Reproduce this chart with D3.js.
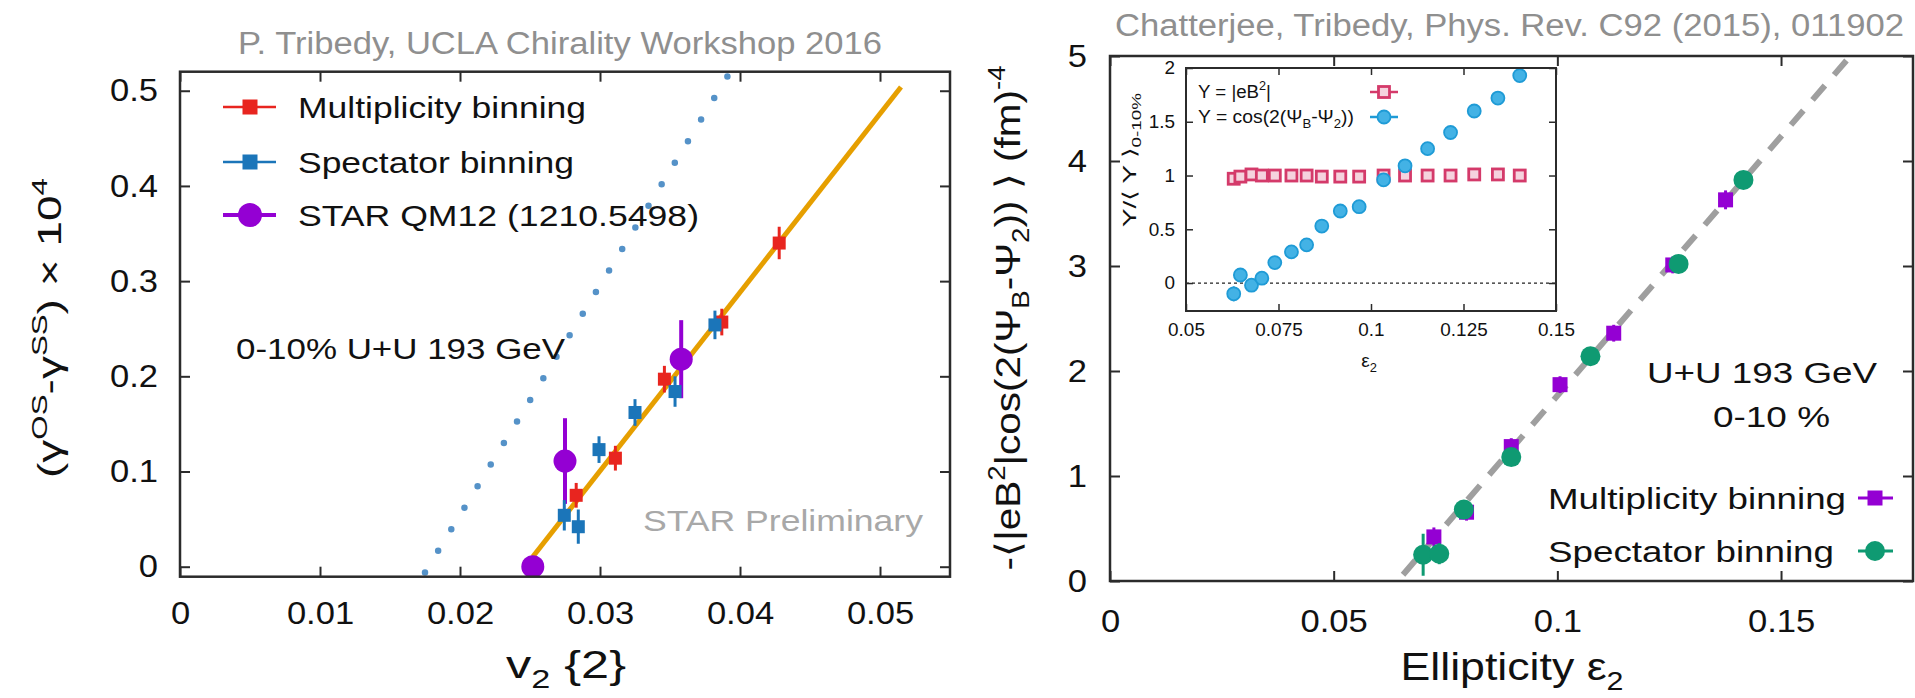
<!DOCTYPE html>
<html>
<head>
<meta charset="utf-8">
<script src="https://cdn.jsdelivr.net/npm/d3@7"></script>
<style>
  html, body { margin: 0; padding: 0; background: #fff; }
  svg { display: block; }
  text { font-family: "Liberation Sans", Arial, Helvetica, sans-serif; fill: #111; }
</style>
</head>
<body>
<svg id="chart" width="1915" height="698"></svg>
<script>
// ---------- Left panel: gamma correlator vs v2{2}, U+U 193 GeV, 0-10% ----------
const multV2        = [0.0283, 0.0311, 0.0346, 0.0387, 0.0428];
const multGamma     = [0.075, 0.114, 0.197, 0.257, 0.340];
const multGammaErr  = [0.013, 0.013, 0.014, 0.014, 0.017];

const specV2        = [0.02745, 0.02845, 0.02993, 0.0325, 0.03536, 0.03821];
const specGamma     = [0.054, 0.042, 0.123, 0.162, 0.184, 0.254];
const specGammaErr  = [0.016, 0.018, 0.014, 0.014, 0.016, 0.015];

const starV2        = [0.0252, 0.0275, 0.0358];
const starGamma     = [0.0, 0.111, 0.218];
const starGammaErr  = [0.0, 0.045, 0.041];

const fitV2         = [0.0252, 0.0515];
const fitGamma      = [0.0105, 0.504];
const scaledV2      = [0.0175, 0.0391];
const scaledGamma   = [-0.006, 0.515];

const leftXTicks    = [0, 0.01, 0.02, 0.03, 0.04, 0.05];
const leftYTicks    = [0, 0.1, 0.2, 0.3, 0.4, 0.5];

// ---------- Right panel: magnetic field projection vs ellipticity ----------
const ellMult       = [0.0724, 0.0797, 0.0897, 0.1006, 0.1126, 0.1258, 0.1376];
const fieldMult     = [0.42, 0.655, 1.28, 1.87, 2.36, 3.01, 3.63];
const fieldMultErr  = [0.09, 0.08, 0.08, 0.08, 0.08, 0.08, 0.09];

const ellSpec       = [0.0700, 0.0736, 0.0791, 0.0897, 0.1074, 0.1271, 0.1416];
const fieldSpec     = [0.25, 0.26, 0.68, 1.18, 2.14, 3.02, 3.82];
const fieldSpecErr  = [0.2, 0.1, 0.07, 0.07, 0.07, 0.07, 0.07];

const trendEll      = [0.0655, 0.1655];
const trendField    = [0.06, 5.0];

const rightXTicks   = [0, 0.05, 0.1, 0.15];
const rightYTicks   = [0, 1, 2, 3, 4, 5];

// ---------- Inset: normalised |eB^2| and cos(2(PsiB-Psi2)) ----------
const insetEll      = [0.0629, 0.0647, 0.0677, 0.0705, 0.0740, 0.0785, 0.0826, 0.0867, 0.0917,
                       0.0968, 0.1034, 0.1092, 0.1153, 0.1215, 0.1279, 0.1343, 0.1402];
const insetB2       = [0.97, 0.99, 1.01, 1.0, 1.0, 1.0, 1.0, 0.99, 0.99,
                       0.99, 1.0, 1.0, 1.0, 1.0, 1.01, 1.01, 1.0];
const insetCos      = [-0.10, 0.075, -0.02, 0.045, 0.19, 0.29, 0.355, 0.53, 0.67,
                       0.71, 0.96, 1.09, 1.25, 1.40, 1.60, 1.72, 1.93];
const insetCosErr   = [0.07, 0.04, 0.04, 0.04, 0.04, 0.04, 0.04, 0.04, 0.04,
                       0.04, 0.04, 0.04, 0.04, 0.04, 0.04, 0.04, 0.04];
const insetXTicks   = [0.05, 0.075, 0.1, 0.125, 0.15];
const insetYTicks   = [0, 0.5, 1, 1.5, 2];

// ---------- helpers ----------
const svg = d3.select("#chart");
const fmt = d3.format("~g");
const FRAME = "#2b2b2b";
const FONT = '"Liberation Sans", Arial, Helvetica, sans-serif';

// horizontal stretch of rendered text (the figure's lettering is a little wide)
function stretch(sel, k) {
  sel.each(function () {
    const L = this.getComputedTextLength();
    this.setAttribute("textLength", L * k);
    this.setAttribute("lengthAdjust", "spacingAndGlyphs");
  });
}
function fitTo(sel, w) {
  sel.attr("textLength", w).attr("lengthAdjust", "spacingAndGlyphs");
}

// text with superscripts / subscripts: parts = [[string, "" | "sup" | "sub"], ...]
function rich(parent, parts, fs, attrs) {
  const t = parent.append("text").attr("font-size", fs);
  Object.entries(attrs || {}).forEach(([k, v]) => t.attr(k, v));
  let shift = 0;
  parts.forEach(([s, kind]) => {
    let target = 0, size = fs;
    if (kind === "sup") { target = -0.42 * fs; size = 0.68 * fs; }
    if (kind === "sub") { target = 0.26 * fs; size = 0.68 * fs; }
    t.append("tspan").attr("dy", target - shift).attr("font-size", size).text(s);
    shift = target;
  });
  return t;
}

function styleLabels(sel, o) {
  sel.attr("font-size", o.fs).attr("fill", "#111").style("font-family", FONT);
  stretch(sel, o.k);
}

function axes(g, x, y, o) {
  const [x0, x1] = x.range(), [y0, y1] = y.range();
  const bottom = g.append("g").attr("transform", `translate(0,${y0})`)
    .call(d3.axisBottom(x).tickValues(o.xt).tickSizeInner(-o.tick).tickSizeOuter(0)
      .tickPadding(o.padX).tickFormat(fmt));
  g.append("g").attr("transform", `translate(0,${y1})`)
    .call(d3.axisTop(x).tickValues(o.xt).tickSizeInner(-o.tick).tickSizeOuter(0).tickFormat(""));
  const left = g.append("g").attr("transform", `translate(${x0},0)`)
    .call(d3.axisLeft(y).tickValues(o.yt).tickSizeInner(-o.tick).tickSizeOuter(0)
      .tickPadding(o.padY).tickFormat(fmt));
  g.append("g").attr("transform", `translate(${x1},0)`)
    .call(d3.axisRight(y).tickValues(o.yt).tickSizeInner(-o.tick).tickSizeOuter(0).tickFormat(""));
  g.selectAll(".domain").remove();
  g.selectAll(".tick line").attr("stroke", FRAME).attr("stroke-width", o.tw);
  styleLabels(bottom.selectAll("text"), o);
  styleLabels(left.selectAll("text"), o);
  g.append("rect").attr("x", x0).attr("y", y1).attr("width", x1 - x0).attr("height", y0 - y1)
    .attr("fill", "none").attr("stroke", FRAME).attr("stroke-width", o.fw);
}

function errorBars(g, xs, ys, es, x, y, color, w) {
  g.append("g").selectAll("line").data(xs).join("line")
    .attr("x1", (d) => x(d)).attr("x2", (d) => x(d))
    .attr("y1", (d, i) => y(ys[i] - es[i])).attr("y2", (d, i) => y(ys[i] + es[i]))
    .attr("stroke", color).attr("stroke-width", w);
}
function squares(g, xs, ys, x, y, size, fill, stroke, sw) {
  g.append("g").selectAll("rect").data(xs).join("rect")
    .attr("x", (d) => x(d) - size / 2).attr("y", (d, i) => y(ys[i]) - size / 2)
    .attr("width", size).attr("height", size)
    .attr("fill", fill).attr("stroke", stroke || "none").attr("stroke-width", sw || 0);
}
function circles(g, xs, ys, x, y, r, fill, stroke, sw) {
  g.append("g").selectAll("circle").data(xs).join("circle")
    .attr("cx", (d) => x(d)).attr("cy", (d, i) => y(ys[i])).attr("r", r)
    .attr("fill", fill).attr("stroke", stroke || "none").attr("stroke-width", sw || 0);
}
const line = (xs, ys, x, y) => d3.line().x((d) => x(d[0])).y((d) => y(d[1]))(d3.zip(xs, ys));

// ================= LEFT PANEL =================
const L = svg.append("g");
const lx = d3.scaleLinear().domain([0, 0.055]).range([180, 950]);
const ly = d3.scaleLinear().domain([-0.0105, 0.52]).range([576.7, 71.7]);

L.append("defs").append("clipPath").attr("id", "clipL")
  .append("rect").attr("x", 180).attr("y", 71.7).attr("width", 770).attr("height", 505);
const lPlot = L.append("g").attr("clip-path", "url(#clipL)");

// v2 scaled reference (dotted): 23 equal gaps so a dot sits at each end
const dotted = lPlot.append("path").attr("d", line(scaledV2, scaledGamma, lx, ly))
  .attr("fill", "none").attr("stroke", "#5592c8").attr("stroke-width", 6.5)
  .attr("stroke-linecap", "round");
dotted.attr("stroke-dasharray", `0 ${dotted.node().getTotalLength() / 23 - 0.001}`);
// linear fit
lPlot.append("path").attr("d", line(fitV2, fitGamma, lx, ly))
  .attr("fill", "none").attr("stroke", "#e69f00").attr("stroke-width", 5);

// STAR QM12
errorBars(lPlot, starV2, starGamma, starGammaErr, lx, ly, "#9400d3", 4);
circles(lPlot, starV2, starGamma, lx, ly, 11.5, "#9400d3");
// multiplicity binning
errorBars(lPlot, multV2, multGamma, multGammaErr, lx, ly, "#e8251f", 3);
squares(lPlot, multV2, multGamma, lx, ly, 13, "#e8251f");
// spectator binning
errorBars(lPlot, specV2, specGamma, specGammaErr, lx, ly, "#1b75b9", 3);
squares(lPlot, specV2, specGamma, lx, ly, 13, "#1b75b9");

axes(L, lx, ly, { xt: leftXTicks, yt: leftYTicks, tick: 10, padX: 25, padY: 22, fs: 32, k: 1.08, tw: 2, fw: 2.5 });

// legend
const legL = L.append("g");
const legRows = [
  { label: "Multiplicity binning", color: "#e8251f", shape: "sq", y: 107, lw: 2.5, tw: 288 },
  { label: "Spectator binning", color: "#1b75b9", shape: "sq", y: 162, lw: 2.5, tw: 276 },
  { label: "STAR QM12 (1210.5498)", color: "#9400d3", shape: "ci", y: 215, lw: 4, tw: 401 }
];
legRows.forEach((r) => {
  legL.append("line").attr("x1", 223).attr("x2", 276).attr("y1", r.y).attr("y2", r.y)
    .attr("stroke", r.color).attr("stroke-width", r.lw);
  if (r.shape === "sq")
    legL.append("rect").attr("x", 250 - 7.5).attr("y", r.y - 7.5).attr("width", 15).attr("height", 15).attr("fill", r.color);
  else
    legL.append("circle").attr("cx", 250).attr("cy", r.y).attr("r", 12).attr("fill", r.color);
  const t = legL.append("text").attr("x", 298).attr("y", r.y).attr("dy", "0.36em")
    .attr("font-size", 30).text(r.label);
  fitTo(t, r.tw);
});

fitTo(L.append("text").attr("x", 236).attr("y", 348).attr("dy", "0.36em").attr("font-size", 30)
  .text("0-10% U+U 193 GeV"), 329);
fitTo(L.append("text").attr("x", 643).attr("y", 520).attr("dy", "0.36em").attr("font-size", 30)
  .style("fill", "#a8a8a8").text("STAR Preliminary"), 280);

// title
fitTo(L.append("text").attr("x", 238).attr("y", 54).attr("font-size", 31)
  .style("fill", "#8f8f8f").text("P. Tribedy, UCLA Chirality Workshop 2016"), 644);

// axis titles
fitTo(rich(L, [["v", ""], ["2", "sub"], [" {2}", ""]], 38,
  { x: 566, y: 678, "text-anchor": "middle" }), 120);
fitTo(rich(L, [["(γ", ""], ["OS", "sup"], ["-γ", ""], ["SS", "sup"], [") × 10", ""], ["4", "sup"]], 33,
  { transform: "translate(61,328) rotate(-90)", "text-anchor": "middle" }), 300);

// ================= RIGHT PANEL =================
const R = svg.append("g");
const rx = d3.scaleLinear().domain([0, 0.1795]).range([1110, 1913]);
const ry = d3.scaleLinear().domain([0, 5]).range([581, 56]);

R.append("defs").append("clipPath").attr("id", "clipR")
  .append("rect").attr("x", 1110).attr("y", 56).attr("width", 803).attr("height", 525);
const rPlot = R.append("g").attr("clip-path", "url(#clipR)");

rPlot.append("path").attr("d", line(trendEll, trendField, rx, ry))
  .attr("fill", "none").attr("stroke", "#9f9f9f").attr("stroke-width", 6)
  .attr("stroke-dasharray", "19 14");

errorBars(rPlot, ellMult, fieldMult, fieldMultErr, rx, ry, "#9400d3", 3);
squares(rPlot, ellMult, fieldMult, rx, ry, 15, "#9400d3");
errorBars(rPlot, ellSpec, fieldSpec, fieldSpecErr, rx, ry, "#0f9a72", 3);
circles(rPlot, ellSpec, fieldSpec, rx, ry, 10, "#0f9a72");

axes(R, rx, ry, { xt: rightXTicks, yt: rightYTicks, tick: 10, padX: 28, padY: 23, fs: 32, k: 1.08, tw: 2, fw: 2.5 });

// annotations and legend
fitTo(R.append("text").attr("x", 1647).attr("y", 372).attr("dy", "0.36em").attr("font-size", 30)
  .text("U+U 193 GeV"), 230);
fitTo(R.append("text").attr("x", 1713).attr("y", 416).attr("dy", "0.36em").attr("font-size", 30)
  .text("0-10 %"), 117);

const legR = [
  { label: "Multiplicity binning", y: 498, color: "#9400d3", shape: "sq", tw: 298 },
  { label: "Spectator binning", y: 551, color: "#0f9a72", shape: "ci", tw: 286 }
];
legR.forEach((r) => {
  R.append("line").attr("x1", 1858).attr("x2", 1893).attr("y1", r.y).attr("y2", r.y)
    .attr("stroke", r.color).attr("stroke-width", 3);
  if (r.shape === "sq")
    R.append("rect").attr("x", 1875 - 7.5).attr("y", r.y - 7.5).attr("width", 15).attr("height", 15).attr("fill", r.color);
  else
    R.append("circle").attr("cx", 1875).attr("cy", r.y).attr("r", 10).attr("fill", r.color);
  fitTo(R.append("text").attr("x", 1548).attr("y", r.y).attr("dy", "0.36em").attr("font-size", 30)
    .text(r.label), r.tw);
});

// title
fitTo(R.append("text").attr("x", 1115).attr("y", 36).attr("font-size", 31)
  .style("fill", "#8f8f8f").text("Chatterjee, Tribedy, Phys. Rev. C92 (2015), 011902"), 789);

// axis titles
fitTo(rich(R, [["Ellipticity ε", ""], ["2", "sub"]], 38,
  { x: 1512, y: 680, "text-anchor": "middle" }), 223);
fitTo(rich(R, [["-⟨|eB", ""], ["2", "sup"], ["|cos(2(Ψ", ""], ["B", "sub"], ["-Ψ", ""], ["2", "sub"],
  [")) ⟩ (fm)", ""], ["-4", "sup"]], 35,
  { transform: "translate(1020,318) rotate(-90)", "text-anchor": "middle" }), 505);

// ================= INSET =================
const I = svg.append("g");
const ix = d3.scaleLinear().domain([0.05, 0.15]).range([1186, 1556]);
const iy = d3.scaleLinear().domain([-0.26, 2]).range([311, 68]);

I.append("rect").attr("x", 1186).attr("y", 68).attr("width", 370).attr("height", 243).attr("fill", "#fff");

I.append("line").attr("x1", ix(0.05)).attr("x2", ix(0.15)).attr("y1", iy(0)).attr("y2", iy(0))
  .attr("stroke", "#222").attr("stroke-width", 1.3).attr("stroke-dasharray", "3 3");

const iPlot = I.append("g");
squares(iPlot, insetEll, insetB2, ix, iy, 11, "#f5d3de", "#d43a6a", 2.8);
errorBars(iPlot, insetEll, insetCos, insetCosErr, ix, iy, "#1f9bd6", 2);
circles(iPlot, insetEll, insetCos, ix, iy, 6.5, "#43b2e5", "#1f9bd6", 1.8);

axes(I, ix, iy, { xt: insetXTicks, yt: insetYTicks, tick: 7, padX: 12.7, padY: 11, fs: 18, k: 1.05, tw: 1.5, fw: 2 });

// inset legend
fitTo(rich(I, [["Y = |eB", ""], ["2", "sup"], ["|", ""]], 18, { x: 1198, y: 98 }), 73);
fitTo(rich(I, [["Y = cos(2(Ψ", ""], ["B", "sub"], ["-Ψ", ""], ["2", "sub"], ["))", ""]], 18, { x: 1198, y: 123 }), 156);
I.append("line").attr("x1", 1370).attr("x2", 1398).attr("y1", 92).attr("y2", 92).attr("stroke", "#d43a6a").attr("stroke-width", 2.5);
I.append("rect").attr("x", 1378.5).attr("y", 86.5).attr("width", 11).attr("height", 11)
  .attr("fill", "#f5d3de").attr("stroke", "#d43a6a").attr("stroke-width", 2.8);
I.append("line").attr("x1", 1370).attr("x2", 1398).attr("y1", 117).attr("y2", 117).attr("stroke", "#1f9bd6").attr("stroke-width", 2.5);
I.append("circle").attr("cx", 1384).attr("cy", 117).attr("r", 6.5)
  .attr("fill", "#43b2e5").attr("stroke", "#1f9bd6").attr("stroke-width", 1.8);

// inset axis titles
rich(I, [["ε", ""], ["2", "sub"]], 19, { x: 1369, y: 367, "text-anchor": "middle" });
fitTo(rich(I, [["Y/⟨ Y ⟩", ""], ["0-10%", "sub"]], 19,
  { transform: "translate(1136,160) rotate(-90)", "text-anchor": "middle" }), 134);
</script>
</body>
</html>
